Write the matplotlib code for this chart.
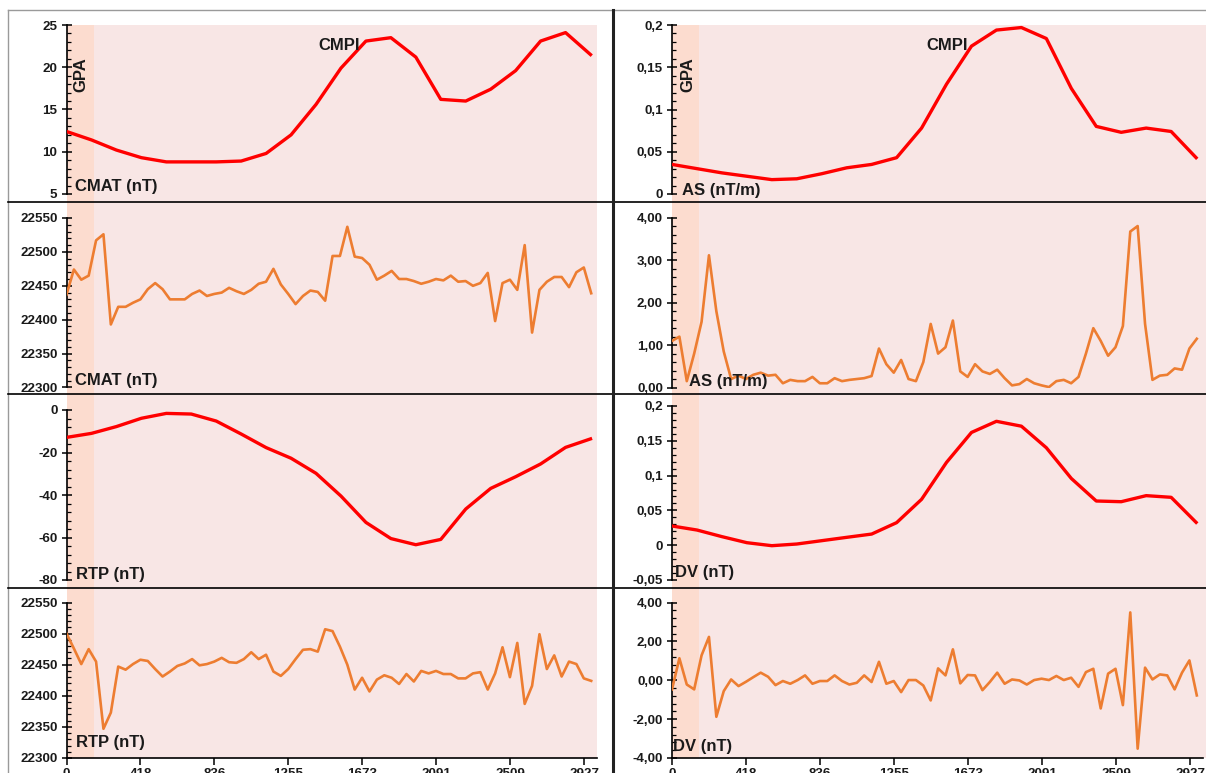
import numpy as np
import matplotlib
matplotlib.use('Agg')
import matplotlib.pyplot as plt
from matplotlib.patches import Rectangle
from matplotlib.lines import Line2D
from matplotlib.ticker import AutoMinorLocator, FixedLocator, FixedFormatter
import matplotlib.transforms as mtransforms

plt.rcParams['font.family'] = ['Liberation Sans', 'DejaVu Sans']

# ---------------- data ----------------
smooth_step = 141.0      # sample spacing of smooth profiles
noisy_step = 41.76       # sample spacing of residual profiles
gpa_end = 155            # GPA band extent

x_ticks = [0, 418.14, 836.29, 1254.43, 1672.57, 2090.71, 2508.86, 2927]
x_tick_labels = ["0", "418", "836", "1255", "1673", "2091", "2509", "2927"]

cmat_smooth = [12.4, 11.4, 10.2, 9.3, 8.8, 8.8, 8.8, 8.9, 9.8, 12.0, 15.6,
               19.9, 23.1, 23.5, 21.2, 16.2, 16.0, 17.4, 19.6, 23.1, 24.1, 21.5]
as_smooth = [0.035, 0.030, 0.025, 0.021, 0.017, 0.018, 0.024, 0.031, 0.035, 0.043, 0.078,
             0.130, 0.175, 0.194, 0.197, 0.184, 0.125, 0.080, 0.073, 0.078, 0.074, 0.043]
rtp_smooth = [-12.9, -11.0, -7.8, -3.9, -1.6, -1.9, -5.2, -11.3, -17.7, -22.7, -29.8,
              -40.5, -52.9, -60.5, -63.4, -60.9, -46.6, -36.9, -31.4, -25.4, -17.6, -13.6]
dv_smooth = [0.0276, 0.0218, 0.0123, 0.0036, -0.0007, 0.0017, 0.0065, 0.0113, 0.016, 0.0324, 0.0659,
             0.119, 0.162, 0.178, 0.171, 0.140, 0.0959, 0.0635, 0.0625, 0.0712, 0.0688, 0.0328]

cmat_noisy = [22437, 22474, 22459, 22465, 22517, 22526, 22393, 22419, 22419, 22425,
              22430, 22445, 22454, 22445, 22430, 22430, 22430, 22438, 22443, 22435,
              22438, 22440, 22447, 22442, 22438, 22444, 22453, 22456, 22475, 22452,
              22438, 22423, 22435, 22443, 22441, 22428, 22494, 22494, 22537, 22493,
              22491, 22481, 22459, 22465, 22472, 22460, 22460, 22457, 22453, 22456,
              22460, 22458, 22465, 22456, 22457, 22450, 22454, 22469, 22398, 22454,
              22459, 22444, 22510, 22381, 22444, 22456, 22463, 22463, 22448, 22470,
              22477, 22439]
rtp_noisy = [22500, 22476, 22451, 22475, 22455, 22347, 22373, 22447, 22442, 22451,
             22458, 22456, 22443, 22431, 22439, 22448, 22452, 22459, 22449, 22451,
             22455, 22461, 22454, 22453, 22459, 22470, 22459, 22466, 22439, 22432,
             22443, 22459, 22474, 22475, 22471, 22507, 22504, 22479, 22450, 22410,
             22429, 22407, 22426, 22433, 22429, 22419, 22435, 22423, 22440, 22436,
             22440, 22435, 22435, 22428, 22428, 22436, 22438, 22410, 22436, 22478,
             22430, 22485, 22387, 22416, 22499, 22443, 22465, 22431, 22455, 22451,
             22428, 22424]
as_noisy = [1.10, 1.20, 0.15, 0.80, 1.55, 3.12, 1.80, 0.85, 0.20, 0.28,
            0.20, 0.30, 0.35, 0.28, 0.30, 0.10, 0.18, 0.15, 0.15, 0.25,
            0.10, 0.10, 0.22, 0.15, 0.18, 0.20, 0.22, 0.27, 0.92, 0.55,
            0.35, 0.65, 0.20, 0.15, 0.60, 1.50, 0.80, 0.95, 1.58, 0.38,
            0.25, 0.55, 0.38, 0.32, 0.42, 0.22, 0.05, 0.08, 0.20, 0.10,
            0.05, 0.01, 0.15, 0.18, 0.10, 0.25, 0.80, 1.40, 1.10, 0.75,
            0.95, 1.45, 3.68, 3.81, 1.50, 0.18, 0.28, 0.30, 0.45, 0.42,
            0.92, 1.15]
dv_noisy = [-0.47, 1.13, -0.22, -0.47, 1.28, 2.23, -1.88, -0.56, 0.04, -0.30,
            -0.08, 0.16, 0.39, 0.18, -0.25, -0.04, -0.18, 0.01, 0.25, -0.18,
            -0.04, -0.04, 0.25, -0.04, -0.22, -0.13, 0.25, -0.09, 0.95, -0.18,
            -0.04, -0.61, 0.01, 0.01, -0.27, -1.04, 0.61, 0.25, 1.59, -0.16,
            0.27, 0.25, -0.51, -0.09, 0.39, -0.18, 0.04, -0.01, -0.22, 0.01,
            0.08, 0.01, 0.22, 0.01, 0.13, -0.34, 0.42, 0.59, -1.45, 0.34,
            0.59, -1.28, 3.49, -3.52, 0.65, 0.04, 0.30, 0.25, -0.47, 0.39,
            1.02, -0.78]

yt_r1l = [5, 10, 15, 20, 25];            yl_r1l = ["5", "10", "15", "20", "25"]
yt_r1r = [0, 0.05, 0.1, 0.15, 0.2];      yl_r1r = ["0", "0,05", "0,1", "0,15", "0,2"]
yt_r2l = [22300, 22350, 22400, 22450, 22500, 22550]
yl_r2l = ["22300", "22350", "22400", "22450", "22500", "22550"]
yt_r2r = [0, 1, 2, 3, 4];                yl_r2r = ["0,00", "1,00", "2,00", "3,00", "4,00"]
yt_r3l = [-80, -60, -40, -20, 0];        yl_r3l = ["-80", "-60", "-40", "-20", "0"]
yt_r3r = [-0.05, 0, 0.05, 0.1, 0.15, 0.2]
yl_r3r = ["-0,05", "0", "0,05", "0,1", "0,15", "0,2"]
yt_r4r = [-4, -2, 0, 2, 4];              yl_r4r = ["-4,00", "-2,00", "0,00", "2,00", "4,00"]

# ---------------- layout ----------------
W, H = 1206, 773
fig = plt.figure(figsize=(W / 100, H / 100), dpi=100)

RED = '#FF0000'
ORANGE = '#ED7D31'
PINK = '#F8E6E5'
PEACH = '#FCDCCF'
TXT = '#1a1a1a'

def fx(px):
    return px / W

def fy(py):
    return 1 - py / H

LX0, LX1 = 66.5, 597.4
RX0, RX1 = 672.0, 1203.0
XMAX = 3000

cells = [(25, 202), (202, 394), (394, 588), (588, 758)]

def make_ax(x0, x1, ytop, ybot, cell, ylim, yt, yl, bottom=False, right_col=False):
    ax = fig.add_axes([fx(x0), fy(ybot), fx(x1 - x0), (ybot - ytop) / H])
    ax.patch.set_visible(False)
    ax.set_xlim(0, XMAX)
    ax.set_ylim(*ylim)
    for s in ['top', 'right']:
        ax.spines[s].set_visible(False)
    ax.spines['bottom'].set_visible(bottom)
    ax.spines['left'].set_color('black')
    ax.spines['left'].set_linewidth(1.2)
    ax.spines['bottom'].set_linewidth(1.2)
    ax.yaxis.set_major_locator(FixedLocator(yt))
    ax.yaxis.set_major_formatter(FixedFormatter(yl))
    ax.yaxis.set_minor_locator(AutoMinorLocator(5))
    ax.tick_params(axis='y', which='major', direction='inout', length=7, width=1.1,
                   labelsize=9.6, labelcolor=TXT, pad=3)
    ax.tick_params(axis='y', which='minor', direction='in', length=3, width=0.9)
    for lab in ax.get_yticklabels():
        lab.set_fontweight('bold')
    if bottom:
        ax.xaxis.set_major_locator(FixedLocator(x_ticks))
        ax.xaxis.set_major_formatter(FixedFormatter(x_tick_labels))
        ax.tick_params(axis='x', which='major', direction='out', length=5, width=1.1,
                       labelsize=9.6, labelcolor=TXT, pad=2)
        for lab in ax.get_xticklabels():
            lab.set_fontweight('bold')
    else:
        ax.set_xticks([])
    # backgrounds spanning the whole cell
    bt = mtransforms.blended_transform_factory(ax.transAxes, fig.transFigure)
    wid = 1.01 if right_col else 1.0
    ax.add_patch(Rectangle((0, fy(cell[1])), wid, (cell[1] - cell[0]) / H, transform=bt,
                           facecolor=PINK, edgecolor='none', clip_on=False, zorder=0))
    bt2 = mtransforms.blended_transform_factory(ax.transData, fig.transFigure)
    ax.add_patch(Rectangle((0, fy(cell[1])), gpa_end, (cell[1] - cell[0]) / H, transform=bt2,
                           facecolor=PEACH, edgecolor='none', clip_on=False, zorder=0.5))
    return ax

x_s = np.arange(len(cmat_smooth)) * smooth_step
x_n = np.arange(len(cmat_noisy)) * noisy_step

# Row 1
a = make_ax(LX0, LX1, 25, 194, cells[0], (5, 25), yt_r1l, yl_r1l)
a.plot(x_s, cmat_smooth, color=RED, lw=2.4, zorder=3)
b = make_ax(RX0, RX1, 25, 194, cells[0], (0, 0.2), yt_r1r, yl_r1r, right_col=True)
b.plot(x_s, as_smooth, color=RED, lw=2.4, zorder=3)
# Row 2
a = make_ax(LX0, LX1, 218, 387.5, cells[1], (22300, 22550), yt_r2l, yl_r2l)
a.plot(x_n, cmat_noisy, color=ORANGE, lw=1.9, zorder=3)
b = make_ax(RX0, RX1, 218, 387.5, cells[1], (0, 4), yt_r2r, yl_r2r, right_col=True)
b.plot(x_n, as_noisy, color=ORANGE, lw=1.9, zorder=3)
# Row 3
a = make_ax(LX0, LX1, 410, 580, cells[2], (-80, 0), yt_r3l, yl_r3l)
a.plot(x_s, rtp_smooth, color=RED, lw=2.4, zorder=3)
b = make_ax(RX0, RX1, 406, 580, cells[2], (-0.05, 0.2), yt_r3r, yl_r3r, right_col=True)
b.plot(x_s, dv_smooth, color=RED, lw=2.4, zorder=3)
# Row 4
a = make_ax(LX0, LX1, 602.5, 758, cells[3], (22300, 22550), yt_r2l, yl_r2l, bottom=True)
a.plot(x_n, rtp_noisy, color=ORANGE, lw=1.9, zorder=3)
b = make_ax(RX0, RX1, 602.5, 758, cells[3], (-4, 4), yt_r4r, yl_r4r, bottom=True, right_col=True)
b.plot(x_n, dv_noisy, color=ORANGE, lw=1.9, zorder=3)

# ---------------- annotations ----------------
def ftext(px, py, s, **kw):
    fig.text(fx(px), fy(py), s, color=TXT, fontweight='bold', **kw)

ftext(360, 45, "CMPI", fontsize=12, ha='right', va='center', zorder=2)
ftext(968, 45, "CMPI", fontsize=12, ha='right', va='center', zorder=2)
ftext(81, 75, "GPA", fontsize=12, ha='center', va='center', rotation=90)
ftext(688, 75, "GPA", fontsize=12, ha='center', va='center', rotation=90)

ftext(75, 187, "CMAT (nT)", fontsize=12, ha='left', va='center')
ftext(682, 191, "AS (nT/m)", fontsize=12, ha='left', va='center')
ftext(75, 380, "CMAT (nT)", fontsize=12, ha='left', va='center')
ftext(689, 382, "AS (nT/m)", fontsize=12, ha='left', va='center')
ftext(76, 574, "RTP (nT)", fontsize=12, ha='left', va='center')
ftext(675, 573, "DV (nT)", fontsize=12, ha='left', va='center')
ftext(76, 743, "RTP (nT)", fontsize=12, ha='left', va='center')
ftext(673, 747, "DV (nT)", fontsize=12, ha='left', va='center')

# ---------------- frame lines ----------------
def fline(xs, ys, **kw):
    fig.add_artist(Line2D([fx(v) for v in xs], [fy(v) for v in ys],
                          transform=fig.transFigure, **kw))

fline([8, W], [10, 10], color='#9a9a9a', lw=1.0)
fline([8, 8], [10, H], color='#9a9a9a', lw=1.0)
for yy in [202, 394, 588]:
    fline([8, W], [yy, yy], color='black', lw=1.2, zorder=5)
fline([613, 613], [10, H], color='#222222', lw=2.2, zorder=6)

fig.savefig('out.png', dpi=100)
